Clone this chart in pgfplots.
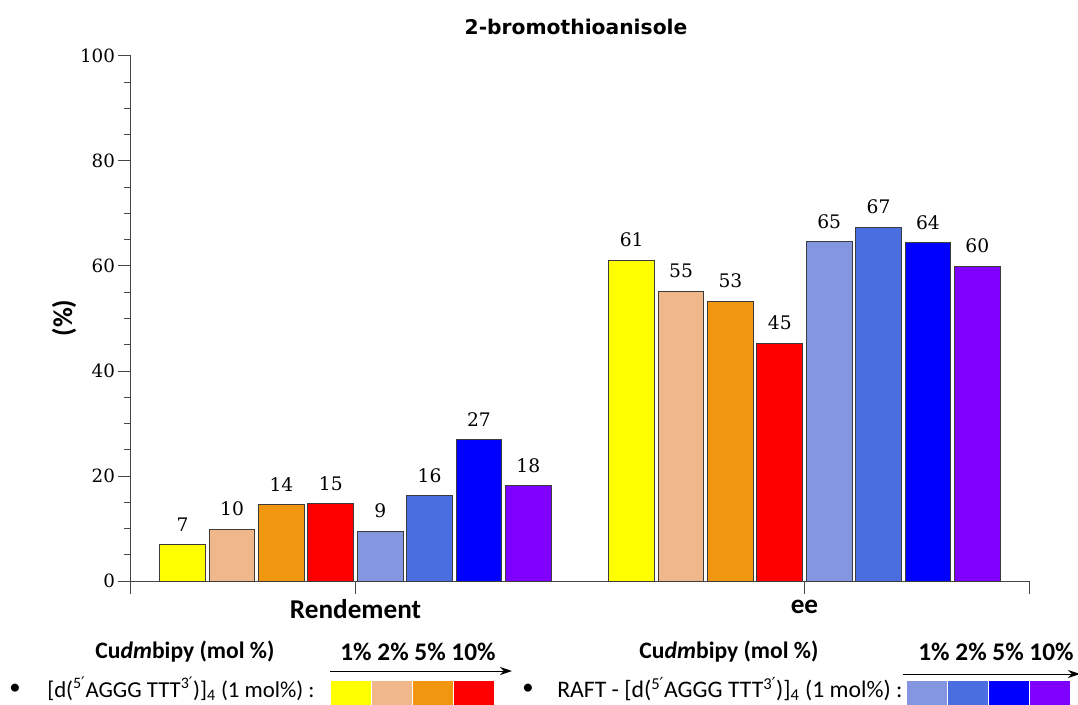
\documentclass[border=0pt]{standalone}
\usepackage{pgfplots}
\pgfplotsset{compat=1.18}
\usetikzlibrary{arrows.meta}
\usepackage{fontspec}
\setmainfont{Carlito}
\newfontfamily\serifnum{DejaVu Serif}
\newfontfamily\titlefont{DejaVu Sans}
\newcommand{\pr}{{\titlefont ′}}
\definecolor{cYel}{RGB}{255,255,0}
\definecolor{cPea}{RGB}{240,184,138}
\definecolor{cOra}{RGB}{240,150,15}
\definecolor{cRed}{RGB}{255,0,0}
\definecolor{cLbl}{RGB}{132,150,224}
\definecolor{cRoy}{RGB}{74,110,224}
\definecolor{cBlu}{RGB}{0,0,255}
\definecolor{cPur}{RGB}{128,0,255}
\definecolor{cEdge}{RGB}{60,60,60}
\definecolor{cAxis}{RGB}{70,70,70}
\begin{document}
\begin{tikzpicture}
\begin{axis}[
  scale only axis,
  width=673.5pt, height=393.75pt,
  at={(0,0)}, anchor=south west,
  xmin=-0.5, xmax=1.5, ymin=0, ymax=100,
  axis x line=bottom, axis y line=left,
  axis line style={-, cAxis, line width=0.75pt},
  xtick={-0.5,0,1,1.5},
  xticklabels={,Rendement,ee,},
  ytick={0,20,40,60,80,100},
  minor y tick num=3,
  tick align=outside,
  major tick length=9.5pt, minor tick length=5.5pt,
  every tick/.style={cAxis, line width=0.75pt},
  /pgf/number format/assume math mode=true,
  yticklabel style={font=\serifnum\fontsize{13.7}{14}\selectfont, xshift=1pt},
  xticklabel style={font=\bfseries\fontsize{20.4}{21}\selectfont, yshift=-1pt},
  every node near coord/.append style={font=\serifnum\fontsize{14}{15}\selectfont, inner sep=0pt, yshift=9.75pt, black},
  mybar/.style={ybar, bar shift=0pt, bar width=0.102, draw=cEdge, line width=0.75pt,
    nodes near coords, point meta=explicit symbolic},
  clip=false,
]
\addplot[mybar, fill=cYel] coordinates {(-0.385,6.9) [7] (0.615,61.0) [61]};
\addplot[mybar, fill=cPea] coordinates {(-0.275,9.9) [10] (0.725,55.2) [55]};
\addplot[mybar, fill=cOra] coordinates {(-0.165,14.5) [14] (0.835,53.3) [53]};
\addplot[mybar, fill=cRed] coordinates {(-0.055,14.7) [15] (0.945,45.3) [45]};
\addplot[mybar, fill=cLbl] coordinates {(0.055,9.5) [9] (1.055,64.6) [65]};
\addplot[mybar, fill=cRoy] coordinates {(0.165,16.2) [16] (1.165,67.3) [67]};
\addplot[mybar, fill=cBlu] coordinates {(0.275,26.9) [27] (1.275,64.4) [64]};
\addplot[mybar, fill=cPur] coordinates {(0.385,18.1) [18] (1.385,59.9) [60]};
\end{axis}
\begin{scope}[x=0.75pt, y=-0.75pt, shift={(-98.25pt,435.75pt)}]
  \node[font=\titlefont\bfseries\fontsize{15.2}{16}\selectfont] at (576,27) {2-bromothioanisole};
  \node[rotate=90, font=\bfseries\fontsize{20.4}{21}\selectfont] at (64,318) {(\%)};
  % legend left
  \node[font=\bfseries\fontsize{17.7}{18}\selectfont] at (185,652) {Cu\textit{dm}bipy (mol \%)};
  \node[font=\bfseries\fontsize{19}{20}\selectfont] at (418,652) {1\% 2\% 5\% 10\%};
  \draw[-{Stealth[length=9pt,width=6pt]}, line width=0.75pt] (330,671) -- (512,671);
  \fill[cYel] (331,681) rectangle (371,706);
  \fill[cPea] (372,681) rectangle (412,706);
  \fill[cOra] (413,681) rectangle (453,706);
  \fill[cRed] (454,681) rectangle (494,706);
  \node[font=\fontsize{17}{18}\selectfont] at (15,689) {\textbullet};
  \node[anchor=west, inner sep=0pt, font=\fontsize{17.1}{18}\selectfont] at (47,689) {[d(\textsuperscript{5\pr}AGGG TTT\textsuperscript{3\pr})]\textsubscript{4} (1 mol\%) :};
  % legend right
  \node[font=\bfseries\fontsize{17.7}{18}\selectfont] at (729,652) {Cu\textit{dm}bipy (mol \%)};
  \node[font=\bfseries\fontsize{19}{20}\selectfont] at (996,652) {1\% 2\% 5\% 10\%};
  \draw[-{Stealth[length=9pt,width=6pt]}, line width=0.75pt] (903,674) -- (1080,674);
  \fill[cLbl] (907,681) rectangle (947,706);
  \fill[cRoy] (948,681) rectangle (988,706);
  \fill[cBlu] (989,681) rectangle (1029,706);
  \fill[cPur] (1030,681) rectangle (1070,706);
  \node[font=\fontsize{17}{18}\selectfont] at (528,689) {\textbullet};
  \node[anchor=west, inner sep=0pt, font=\fontsize{17.8}{18}\selectfont] at (557,689) {RAFT - [d(\textsuperscript{5\pr}AGGG TTT\textsuperscript{3\pr})]\textsubscript{4} (1 mol\%) :};
  \pgfresetboundingbox
  \path (0,0) rectangle (1078,704);
\end{scope}
\end{tikzpicture}
\end{document}
